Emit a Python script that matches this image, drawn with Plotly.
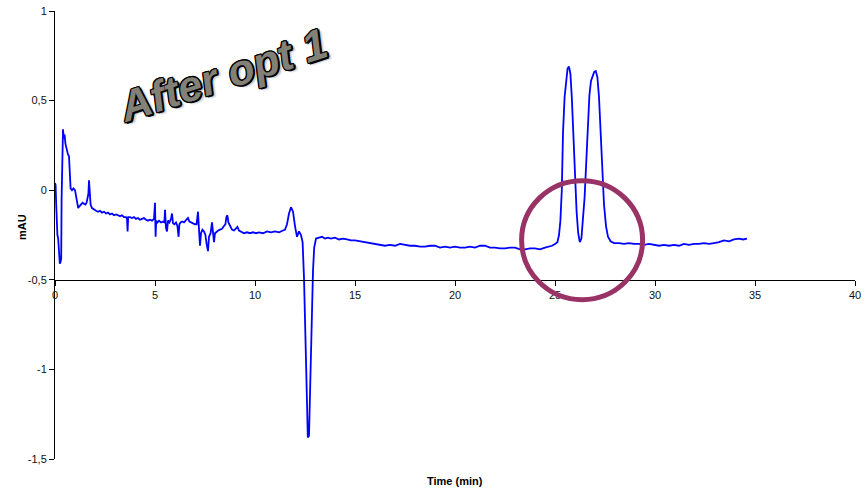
import plotly.graph_objects as go

# Chromatogram trace: retention time (min) and detector response (mAU)
time_min = [
    0.00, 0.03, 0.06, 0.09, 0.12, 0.16, 0.20, 0.24, 0.28, 0.31,
    0.33, 0.36, 0.40, 0.44, 0.48, 0.52, 0.56, 0.60, 0.65, 0.70,
    0.74, 0.78, 0.85, 0.92, 1.00, 1.05, 1.10, 1.16, 1.22, 1.30,
    1.38, 1.45, 1.52, 1.58, 1.63, 1.67, 1.70, 1.73, 1.78, 1.85,
    1.95, 2.05, 2.15, 2.25, 2.35, 2.45, 2.55, 2.65, 2.75, 2.85,
    2.95, 3.05, 3.15, 3.25, 3.35, 3.45, 3.55, 3.60, 3.63, 3.66,
    3.75, 3.85, 3.95, 4.05, 4.15, 4.25, 4.35, 4.45, 4.55, 4.65,
    4.75, 4.85, 4.95, 5.00, 5.03, 5.06, 5.12, 5.20, 5.30, 5.40,
    5.47, 5.50, 5.55, 5.60, 5.65, 5.72, 5.80, 5.85, 5.90, 5.97,
    6.05, 6.12, 6.18, 6.22, 6.28, 6.36, 6.45, 6.55, 6.65, 6.72,
    6.80, 6.90, 7.00, 7.08, 7.15, 7.20, 7.25, 7.30, 7.37, 7.45,
    7.52, 7.58, 7.65, 7.70, 7.78, 7.85, 7.90, 7.95, 8.00, 8.08,
    8.16, 8.25, 8.35, 8.45, 8.52, 8.57, 8.62, 8.67, 8.75, 8.85,
    8.95, 9.05, 9.12, 9.20, 9.30, 9.45, 9.60, 9.75, 9.90, 10.05,
    10.2, 10.4, 10.6, 10.8, 11.0, 11.2, 11.4, 11.5, 11.6, 11.7,
    11.8, 11.9, 12.0, 12.1, 12.2, 12.3, 12.38, 12.45, 12.55, 12.64,
    12.70, 12.76, 12.84, 12.90, 12.96, 13.05, 13.2, 13.35, 13.5, 13.65,
    13.8, 14.0, 14.2, 14.4, 14.6, 14.8, 15.0, 15.25, 15.5, 15.75,
    16.0, 16.25, 16.5, 16.75, 17.0, 17.25, 17.5, 17.75, 18.0, 18.25,
    18.5, 18.75, 19.0, 19.25, 19.5, 19.75, 20.0, 20.25, 20.5, 20.75,
    21.0, 21.25, 21.5, 21.75, 22.0, 22.25, 22.5, 22.75, 23.0, 23.25,
    23.5, 23.75, 24.0, 24.25, 24.5, 24.7, 24.85, 25.0, 25.12, 25.2,
    25.27, 25.34, 25.40, 25.48, 25.56, 25.63, 25.70, 25.77, 25.84, 25.92,
    26.00, 26.08, 26.16, 26.24, 26.32, 26.40, 26.48, 26.56, 26.64, 26.72,
    26.80, 26.88, 26.96, 27.04, 27.12, 27.20, 27.28, 27.36, 27.45, 27.55,
    27.65, 27.78, 27.95, 28.2, 28.45, 28.7, 28.95, 29.2, 29.45, 29.7,
    29.95, 30.2, 30.45, 30.7, 30.95, 31.2, 31.45, 31.7, 31.95, 32.2,
    32.45, 32.7, 32.95, 33.2, 33.45, 33.7, 33.95, 34.2, 34.4, 34.6,
]

mau = [
    0.04, 0.03, -0.08, -0.22, -0.25, -0.27, -0.37, -0.41, -0.40, -0.38,
    -0.05, 0.20, 0.34, 0.29, 0.31, 0.26, 0.24, 0.21, 0.20, 0.19,
    0.04, 0.01, 0.00, 0.01, 0.00, -0.04, -0.08, -0.10, -0.09, -0.08,
    -0.07, -0.075, -0.08, -0.07, -0.045, -0.02, 0.055, -0.04, -0.08, -0.10,
    -0.11, -0.115, -0.12, -0.115, -0.125, -0.12, -0.13, -0.125, -0.135, -0.13,
    -0.14, -0.135, -0.14, -0.145, -0.14, -0.15, -0.15, -0.16, -0.23, -0.15,
    -0.15, -0.155, -0.15, -0.16, -0.155, -0.165, -0.16, -0.155, -0.165, -0.17,
    -0.165, -0.17, -0.16, -0.07, -0.26, -0.17, -0.18, -0.17, -0.18, -0.175,
    -0.18, -0.11, -0.21, -0.23, -0.17, -0.18, -0.16, -0.13, -0.185, -0.19,
    -0.18, -0.20, -0.26, -0.19, -0.18, -0.175, -0.18, -0.17, -0.155, -0.175,
    -0.18, -0.185, -0.19, -0.19, -0.12, -0.22, -0.31, -0.24, -0.22, -0.23,
    -0.25, -0.30, -0.34, -0.26, -0.24, -0.18, -0.24, -0.29, -0.24, -0.23,
    -0.225, -0.22, -0.215, -0.20, -0.19, -0.15, -0.14, -0.18, -0.20, -0.22,
    -0.225, -0.21, -0.205, -0.225, -0.23, -0.24, -0.235, -0.24, -0.235, -0.24,
    -0.235, -0.24, -0.23, -0.235, -0.23, -0.235, -0.225, -0.22, -0.19, -0.13,
    -0.095, -0.12, -0.20, -0.26, -0.23, -0.25, -0.29, -0.49, -0.95, -1.38,
    -1.37, -1.10, -0.61, -0.45, -0.32, -0.27, -0.265, -0.26, -0.27, -0.265,
    -0.27, -0.265, -0.275, -0.27, -0.275, -0.28, -0.28, -0.285, -0.29, -0.295,
    -0.30, -0.305, -0.31, -0.305, -0.31, -0.30, -0.305, -0.31, -0.31, -0.315,
    -0.315, -0.31, -0.31, -0.32, -0.315, -0.32, -0.315, -0.32, -0.32, -0.315,
    -0.32, -0.31, -0.31, -0.32, -0.32, -0.325, -0.325, -0.32, -0.32, -0.33,
    -0.33, -0.325, -0.325, -0.33, -0.32, -0.315, -0.31, -0.30, -0.29, -0.25,
    -0.17, 0.0, 0.32, 0.52, 0.63, 0.68, 0.69, 0.65, 0.52, 0.30,
    0.06, -0.12, -0.24, -0.29, -0.27, -0.17, -0.04, 0.15, 0.38, 0.53,
    0.61, 0.64, 0.66, 0.665, 0.63, 0.52, 0.35, 0.12, -0.08, -0.20,
    -0.26, -0.285, -0.295, -0.295, -0.30, -0.295, -0.30, -0.30, -0.305, -0.30,
    -0.305, -0.31, -0.305, -0.31, -0.305, -0.31, -0.30, -0.305, -0.30, -0.30,
    -0.295, -0.30, -0.295, -0.29, -0.28, -0.285, -0.275, -0.27, -0.275, -0.27,
]

x_ticks = [0, 5, 10, 15, 20, 25, 30, 35, 40]
y_ticks = [1, 0.5, 0, -0.5, -1, -1.5]
y_tick_labels = ["1", "0,5", "0", "-0,5", "-1", "-1,5"]

# Highlight ring around the pair of peaks (time range, mAU range)
ring_time = [23.33, 29.38]
ring_mau = [-0.611, 0.053]

FONT = "Liberation Sans, Arial, sans-serif"
W, H = 864, 490
ML, MR, MT, MB = 55, 9, 11, 31
PW, PH = W - ML - MR, H - MT - MB


def px_to_paper(px, py):
    return (px - ML) / PW, (MT + PH - py) / PH


fig = go.Figure()
fig.add_trace(go.Scatter(
    x=time_min, y=mau, mode="lines",
    line=dict(color="#0000ff", width=1.8),
    showlegend=False, hoverinfo="skip",
))

fig.add_shape(
    type="circle", xref="x", yref="y",
    x0=ring_time[0], x1=ring_time[1], y0=ring_mau[0], y1=ring_mau[1],
    line=dict(color="#993366", width=5), layer="above",
)

# Word-art style heading: outlined grey italic text on a rising baseline
outline = ", ".join(f"{dx}px {dy}px 0 #000" for dx, dy in
                    [(1, 1), (-1, -1), (1, -1), (-1, 1), (0, 1), (0, -1), (1, 0), (-1, 0),
                     (2, 1), (1, 2)])
hx, hy = px_to_paper(223, 75)
fig.add_annotation(
    x=hx, y=hy, xref="paper", yref="paper", text="After opt 1", showarrow=False,
    xanchor="center", yanchor="middle", textangle=-18,
    font=dict(family="Liberation Sans, Arial", size=43, color="#818178",
              weight="bold", style="italic",
              shadow=outline + ", 3px 3px 2px #c0c0c0"),
)

tx, ty = px_to_paper(0, 481)
fig.add_annotation(
    x=0.5, y=ty, xref="paper", yref="paper",
    text="<b>Time (min)</b>", showarrow=False, yanchor="middle",
    font=dict(family=FONT, size=11, color="#000"),
)
mx, my = px_to_paper(22, 227)
fig.add_annotation(
    x=mx, y=my, xref="paper", yref="paper",
    text="<b>mAU</b>", showarrow=False, textangle=-90,
    xanchor="center", yanchor="middle",
    font=dict(family=FONT, size=11, color="#000"),
)

fig.update_layout(
    width=W, height=H,
    margin=dict(l=ML, r=MR, t=MT, b=MB, autoexpand=False),
    paper_bgcolor="white", plot_bgcolor="white",
    font=dict(family=FONT, size=11, color="#111"),
    xaxis=dict(
        range=[0, 40], tickvals=x_ticks, showgrid=False, zeroline=False,
        showline=True, linecolor="#000", linewidth=1,
        ticks="outside", ticklen=5, tickcolor="#000",
        anchor="free", position=0.4, automargin=False,
    ),
    yaxis=dict(
        range=[-1.5, 1], tickvals=y_ticks, ticktext=y_tick_labels,
        showgrid=False, zeroline=False,
        showline=True, linecolor="#000", linewidth=1,
        ticks="outside", ticklen=5, tickcolor="#000",
        domain=[0, 1], automargin=False,
    ),
)

fig.write_html("out.html")
